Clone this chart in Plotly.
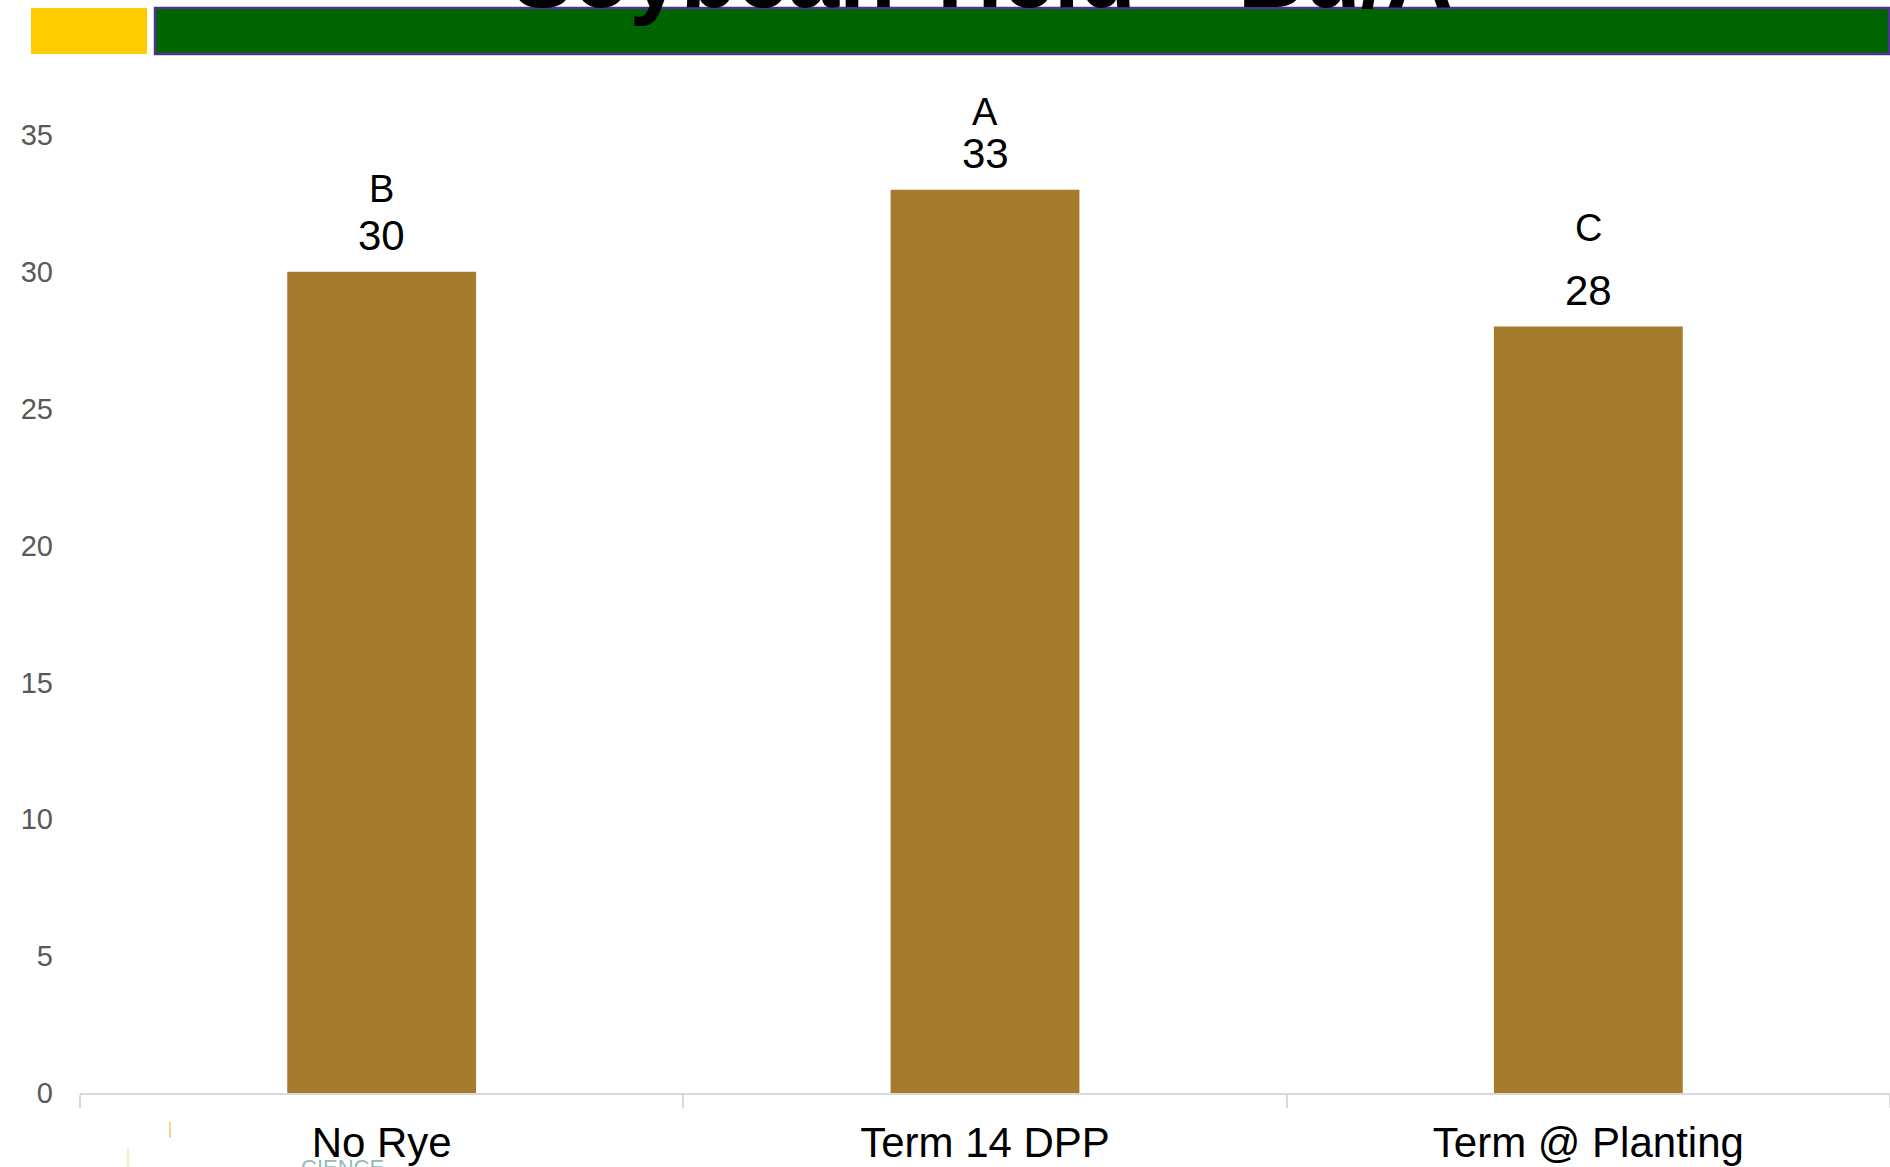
import plotly.graph_objects as go

# Soybean yield by rye termination timing
categories = ["No Rye", "Term 14 DPP", "Term @ Planting"]
yield_bu = [30, 33, 28]
sig_letters = ["B", "A", "C"]
y_ticks = [0, 5, 10, 15, 20, 25, 30, 35]

# styling
W, H = 1890, 1167
ML, MR, MT, MB = 80, 0, 135, 74
BAR_COLOR = "#A57B2D"
FONT = "Liberation Sans, Arial, sans-serif"
letter_shift = [83, 78, 99]   # px above bar top for significance letters
value_shift = 36              # px above bar top for value labels

plot_w = W - ML - MR
plot_h = H - MT - MB


def px_x(p):
    return (p - ML) / plot_w


def px_y(p):
    return (H - MB - p) / plot_h


fig = go.Figure(
    go.Bar(
        x=categories,
        y=yield_bu,
        marker=dict(color=BAR_COLOR, line=dict(width=0)),
        hoverinfo="x+y",
    )
)

annotations = []
for cat, val, let, ls in zip(categories, yield_bu, sig_letters, letter_shift):
    annotations.append(dict(
        x=cat, y=val, xref="x", yref="y", text=str(val), showarrow=False,
        yanchor="middle", yshift=value_shift,
        font=dict(family=FONT, size=42, color="#000000"),
    ))
    annotations.append(dict(
        x=cat, y=val, xref="x", yref="y", text=let, showarrow=False,
        yanchor="middle", yshift=ls,
        font=dict(family=FONT, size=38, color="#000000"),
    ))

# title, mostly above the visible page
annotations.append(dict(
    x=px_x(982), y=px_y(-25), xref="paper", yref="paper",
    text="<b>Soybean Yield – Bu/A</b>", showarrow=False,
    xanchor="center", yanchor="middle",
    font=dict(family=FONT, size=92, color="#000000"),
))

# faint footer logo fragment
annotations.append(dict(
    x=px_x(342), y=px_y(1167), xref="paper", yref="paper",
    text="CIENCE", showarrow=False, xanchor="center", yanchor="middle",
    font=dict(family=FONT, size=22, color="#8fbdb4"),
))

shapes = [
    # yellow header block
    dict(type="rect", xref="paper", yref="paper",
         x0=px_x(31), x1=px_x(147), y0=px_y(54), y1=px_y(8),
         fillcolor="#FFCC00", line=dict(width=0), layer="below"),
    # green header band with purple edge
    dict(type="rect", xref="paper", yref="paper",
         x0=px_x(155), x1=px_x(1889), y0=px_y(54), y1=px_y(8),
         fillcolor="#006400", line=dict(color="#4E3391", width=2.5), layer="below"),
    # footer accents
    dict(type="line", xref="paper", yref="paper",
         x0=px_x(170), x1=px_x(170), y0=px_y(1138), y1=px_y(1122),
         line=dict(color="#F2C75C", width=1.5)),
    dict(type="line", xref="paper", yref="paper",
         x0=px_x(128), x1=px_x(128), y0=px_y(1167), y1=px_y(1148),
         line=dict(color="#F8E6B0", width=1.5)),
]

fig.update_layout(
    width=W, height=H,
    margin=dict(l=ML, r=MR, t=MT, b=MB, pad=0),
    paper_bgcolor="#FFFFFF", plot_bgcolor="#FFFFFF",
    bargap=0.687,
    showlegend=False,
    annotations=annotations,
    shapes=shapes,
    font=dict(family=FONT),
)

fig.update_xaxes(
    type="category",
    showline=True, linecolor="#D9D9D9", linewidth=1.5,
    ticks="outside", tickson="boundaries", ticklen=13, tickcolor="#D9D9D9", tickwidth=1.5,
    tickfont=dict(family=FONT, size=42, color="#000000"),
    ticklabelstandoff=12,
    showgrid=False, zeroline=False,
)

fig.update_yaxes(
    range=[0, 35],
    tickvals=y_ticks,
    ticktext=[str(t) for t in y_ticks],
    showgrid=False, zeroline=False, showline=False,
    ticks="",
    tickfont=dict(family=FONT, size=29, color="#595959"),
    ticklabelstandoff=26,
)

fig.write_html("out.html")
